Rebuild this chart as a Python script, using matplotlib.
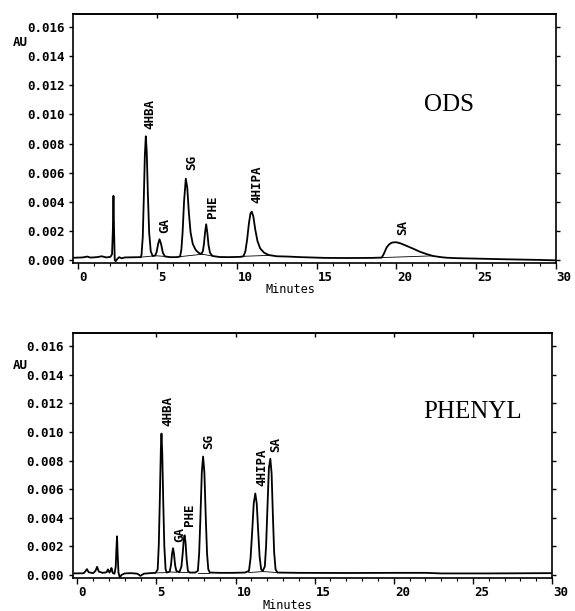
import matplotlib
matplotlib.use("Agg")
import matplotlib.pyplot as plt
import matplotlib.transforms as mtransforms
import numpy as np

# ---- dados lidos do cromatograma (tempo em min, absorbancia em AU) ----
# coluna ODS
ods_t = [-0.26, 0.3, 0.6, 0.8, 1.2, 1.5, 1.8, 2.05, 2.15, 2.20, 2.24, 2.28, 2.32, 2.38, 2.48, 2.6, 2.75, 2.95,
         3.4, 3.95, 4.00, 4.08, 4.15, 4.21, 4.27, 4.33, 4.40, 4.48, 4.58, 4.70, 4.85, 4.95, 5.04, 5.13, 5.23,
         5.34, 5.47, 5.8, 6.2, 6.42, 6.50, 6.58, 6.67, 6.78, 6.87, 6.97, 7.08, 7.22, 7.40, 7.58, 7.75, 7.85,
         7.92, 7.99, 8.06, 8.13, 8.21, 8.30, 8.45, 8.9, 9.5, 10.2, 10.4, 10.52, 10.63, 10.74, 10.84, 10.92,
         11.02, 11.14, 11.28, 11.45, 11.7, 12.0, 12.5, 13.2, 14.0, 15.5, 17.0, 18.5, 19.08, 19.2, 19.39, 19.55,
         19.7, 19.85, 20.02, 20.3, 20.65, 21.1, 21.48, 21.9, 22.3, 22.8, 23.16, 23.8, 25.0, 27.0, 29.0, 30.0]
ods_au = [0.00016, 0.00018, 0.00024, 0.00017, 0.00020, 0.00026, 0.00018, 0.00022, 0.0004, 0.0020, 0.00441,
          0.0019, 0.0, -0.00008, 0.00008, 0.00020, 0.00012, 0.00018, 0.00019, 0.00020, 0.00035, 0.0016,
          0.0045, 0.0072, 0.0085, 0.0074, 0.0045, 0.0019, 0.0006, 0.00028, 0.00030, 0.00055, 0.0011, 0.00143,
          0.0011, 0.0005, 0.00025, 0.00020, 0.00020, 0.00024, 0.0007, 0.0019, 0.0040, 0.00559, 0.0050, 0.0033,
          0.0019, 0.0011, 0.0007, 0.0005, 0.00042, 0.0006, 0.0011, 0.0019, 0.00246, 0.0019, 0.0010, 0.0005,
          0.00028, 0.00021, 0.00020, 0.00022, 0.00026, 0.0006, 0.0014, 0.0025, 0.0032, 0.00333, 0.0030, 0.0021,
          0.0013, 0.0008, 0.0005, 0.00034, 0.00026, 0.00024, 0.00020, 0.00015, 0.00014, 0.00015, 0.00017,
          0.0004, 0.00087, 0.00108, 0.00119, 0.00122, 0.00122, 0.00113, 0.00097, 0.00076, 0.00057, 0.00041,
          0.00028, 0.00020, 0.00016, 0.00013, 0.00010, 0.00005, 0.00001, -0.00002]
ods_nomes = ["4HBA", "GA", "SG", "PHE", "4HIPA", "SA"]
ods_nome_t = [4.54, 5.48, 7.16, 8.45, 11.24, 20.41]
ods_nome_au = [0.0090, 0.00186, 0.0062, 0.0029, 0.0039, 0.0017]
# linhas de base da integracao (inicio, fim)
ods_base_t = [(3.98, 4.72), (4.85, 5.47), (6.45, 7.82), (7.82, 8.45), (10.45, 12.2), (19.08, 22.3)]
ods_base_au = [(0.00020, 0.00028), (0.00030, 0.00025), (0.00024, 0.00040), (0.00040, 0.00028),
               (0.00026, 0.00033), (0.00017, 0.00029)]

# coluna PHENYL
phe_t = [-0.27, 0.4, 0.52, 0.61, 0.72, 1.0, 1.15, 1.25, 1.36, 1.6, 1.85, 1.94, 2.03, 2.10, 2.16, 2.24, 2.35,
         2.43, 2.47, 2.51, 2.55, 2.60, 2.68, 2.80, 3.0, 3.4, 3.8, 3.99, 4.2, 4.6, 4.95, 5.08, 5.15, 5.22, 5.28,
         5.32, 5.37, 5.43, 5.50, 5.58, 5.66, 5.84, 5.92, 5.99, 6.05, 6.11, 6.18, 6.26, 6.45, 6.58, 6.66, 6.73,
         6.78, 6.84, 6.91, 6.99, 7.1, 7.45, 7.62, 7.70, 7.78, 7.87, 7.95, 8.03, 8.12, 8.20, 8.28, 8.38, 9.0,
         9.8, 10.6, 10.85, 10.95, 11.05, 11.15, 11.25, 11.34, 11.43, 11.52, 11.62, 11.72, 11.85, 11.93, 12.02,
         12.11, 12.2, 12.28, 12.36, 12.44, 12.53, 12.65, 14.0, 17.0, 20.0, 22.0, 23.0, 26.0, 30.0]
phe_au = [0.00012, 0.00013, 0.00028, 0.00042, 0.00020, 0.00014, 0.00030, 0.00058, 0.00025, 0.00016, 0.00020,
          0.00040, 0.00018, 0.00030, 0.00050, 0.00015, 0.00010, 0.0006, 0.0018, 0.00271, 0.0015, 0.0002,
          -0.00016, 0.00002, 0.00012, 0.00014, 0.00010, -0.00005, 0.00010, 0.00014, 0.00016, 0.0004, 0.0021,
          0.0055, 0.0088, 0.00988, 0.0085, 0.0052, 0.0020, 0.0004, 0.00018, 0.00025, 0.0007, 0.0015, 0.00188,
          0.0015, 0.0007, 0.0003, 0.00020, 0.0006, 0.0015, 0.0025, 0.00278, 0.0023, 0.0011, 0.0003, 0.00018,
          0.00018, 0.0003, 0.0015, 0.0040, 0.0072, 0.00828, 0.0072, 0.0040, 0.0015, 0.0004, 0.00018, 0.00016,
          0.00016, 0.00018, 0.0003, 0.0012, 0.0030, 0.0050, 0.0057, 0.0050, 0.0031, 0.0013, 0.0004, 0.0003,
          0.0006, 0.0020, 0.0048, 0.0075, 0.00812, 0.0071, 0.0042, 0.0016, 0.0004, 0.00018, 0.00016, 0.00015,
          0.00016, 0.00016, 0.00012, 0.00012, 0.00014]
phe_nomes = ["4HBA", "GA", "PHE", "SG", "4HIPA", "SA"]
phe_nome_t = [5.74, 6.48, 7.11, 8.33, 11.64, 12.55]
phe_nome_au = [0.0104, 0.0023, 0.0034, 0.0088, 0.0062, 0.0086]
phe_base_t = [(5.05, 5.66), (5.84, 6.31), (6.5, 7.0), (7.6, 8.35), (10.83, 11.75), (11.75, 12.6)]
phe_base_au = [(0.00016, 0.00018), (0.00022, 0.00020), (0.00020, 0.00018), (0.00018, 0.00018),
               (0.00018, 0.00025), (0.00025, 0.00018)]

y_ticks = [0.000, 0.002, 0.004, 0.006, 0.008, 0.010, 0.012, 0.014, 0.016]

mono = "DejaVu Sans Mono"

fig = plt.figure(figsize=(5.75, 6.11), dpi=100)
ax1 = fig.add_axes([0.1278, 0.5696, 0.8386, 0.4075])
ax2 = fig.add_axes([0.127, 0.054, 0.833, 0.401])

paineis = [
    (ax1, ods_t, ods_au, ods_nomes, ods_nome_t, ods_nome_au, ods_base_t, ods_base_au, "ODS",
     (0.779, 0.635), (0.449, -0.108), 0.884),
    (ax2, phe_t, phe_au, phe_nomes, phe_nome_t, phe_nome_au, phe_base_t, phe_base_au, "PHENYL",
     (0.834, 0.678), (0.447, -0.114), 0.869),
]

for (ax, t, au, nomes, nt, nau, bt, bau, coluna, pos_col, pos_min, y_au) in paineis:
    ax.plot(t, au, color="black", lw=1.3, solid_joinstyle="round")
    for (t0, t1), (a0, a1) in zip(bt, bau):
        ax.plot([t0, t1], [a0, a1], color="black", lw=0.6)

    for nome, x, y in zip(nomes, nt, nau):
        ax.text(x, y, nome, rotation=90, ha="center", va="bottom", fontsize=9,
                family=mono, fontweight="bold")

    ax.set_xlim(-0.27, 30)
    ax.set_ylim(-0.0002, 0.0169)

    ax.set_xticks([0, 5, 10, 15, 20, 25, 30])
    ax.set_xticks(np.arange(0, 31, 1), minor=True)
    ax.set_yticks(y_ticks)
    ax.set_yticklabels(["%.3f" % v for v in y_ticks])
    ax.tick_params(axis="x", which="major", direction="out", length=4, width=1, pad=1.5)
    ax.tick_params(axis="x", which="minor", direction="out", length=2.5, width=0.8)
    ax.tick_params(axis="y", direction="out", length=3, width=1, right=True, pad=3.5)
    for lab in ax.get_xticklabels() + ax.get_yticklabels():
        lab.set_family(mono)
        lab.set_fontweight("bold")
        lab.set_fontsize(9)
    desloc = mtransforms.ScaledTranslation(1 / 100, 0, fig.dpi_scale_trans)
    for lab in ax.get_xticklabels():
        lab.set_horizontalalignment("left")
        lab.set_transform(lab.get_transform() + desloc)

    sec = ax.secondary_xaxis("top")
    sec.set_xticks([5, 10, 15, 20, 25])
    sec.tick_params(direction="in", length=3, width=1, labeltop=False)

    for s in ax.spines.values():
        s.set_linewidth(1.2)
    sec.spines["top"].set_linewidth(1.2)

    ax.text(pos_min[0], pos_min[1], "Minutes", transform=ax.transAxes, ha="center", va="center",
            fontsize=8.5, family=mono)
    ax.text(-0.111, y_au, "AU", transform=ax.transAxes, ha="center", va="center",
            fontsize=9, family=mono, fontweight="bold")
    ax.text(pos_col[0], pos_col[1], coluna, transform=ax.transAxes, ha="center", va="center",
            fontsize=18, family="Liberation Serif")

plt.savefig("out.png", dpi=100)
